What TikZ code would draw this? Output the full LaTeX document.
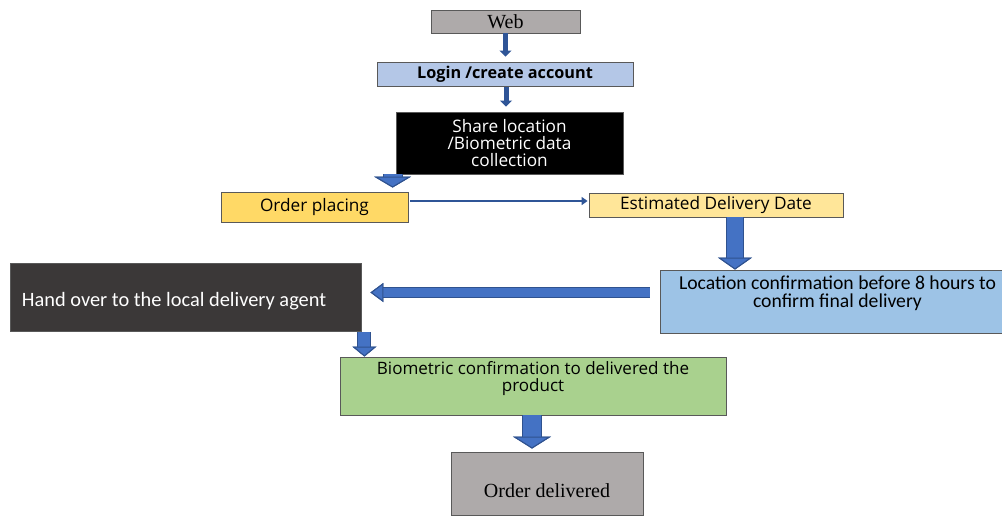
\documentclass[tikz,border=0pt]{standalone}
\usepackage{fontspec}
\setmainfont{Open Sans}
\newfontfamily\calibrifont{Carlito}
\newfontfamily\timesfont{Liberation Serif}
\usetikzlibrary{arrows.meta,positioning,calc}
\definecolor{webgray}{HTML}{AEAAAA}
\definecolor{loginblue}{HTML}{B4C7E7}
\definecolor{ordergold}{HTML}{FFD966}
\definecolor{estyellow}{HTML}{FFE699}
\definecolor{handdark}{HTML}{3B3838}
\definecolor{locblue}{HTML}{9DC3E6}
\definecolor{biogreen}{HTML}{A9D18E}
\definecolor{arrowblue}{HTML}{4472C4}
\definecolor{arrowedge}{HTML}{2F528F}
\definecolor{slimblue}{HTML}{2F5597}
\definecolor{boxedge}{HTML}{595959}
\tikzset{
    %Define style for boxes
    stepbox/.style={
        rectangle,
        draw=boxedge, line width=0.5pt,
        inner sep=0pt,
        align=center,
        font=\fontsize{9.8}{9.7}\selectfont
    },
    %Define style for text set by label
    boxtext/.style={align=center, inner sep=0pt},
    calibritext/.style={font=\calibrifont\fontsize{11.2}{10.4}\selectfont},
    seriftext/.style={font=\timesfont\fontsize{11.4}{12}\selectfont},
    % Define arrow styles
    blk/.style n args={3}{
        draw=arrowblue, line width=#1,
        -{Triangle[width=#2, length=#3, line width=0.6pt, color=arrowedge, fill=arrowblue]},
        preaction={draw=arrowedge, line width=#1+1.2pt}
    },
    slimarrow/.style={
        draw=slimblue, line width=0.1cm,
        -{Triangle[width=0.24cm, length=0.12cm]}
    },
    linearrow/.style={
        draw=slimblue, line width=1.2pt,
        -{Triangle[width=0.16cm, length=0.12cm]}
    }
}
\begin{document}
\begin{tikzpicture}[x=0.02cm, y=-0.02cm]
    \useasboundingbox (0,0) rectangle (1002,515);
    %nodes
    \node[stepbox, seriftext, fill=webgray, minimum width=2.98cm, minimum height=0.46cm] (web) at (505.5,21.5) {Web};
    \node[stepbox, fill=loginblue, minimum width=5.12cm, minimum height=0.48cm, font=\fontsize{9.25}{9.7}\selectfont\bfseries] (login) at (505,74) {Login /create account};
    \node[stepbox, fill=black, text=white, minimum width=4.54cm, minimum height=1.24cm] (share) at (509.5,143) {Share location\\/Biometric data\\collection};
    \node[stepbox, fill=ordergold, minimum width=3.74cm, minimum height=0.6cm] (order) at (314.5,207) {\raisebox{1pt}{Order placing}};
    \node[stepbox, fill=estyellow, minimum width=5.08cm, minimum height=0.48cm] (est) at (716,205) {Estimated Delivery Date};
    \node[stepbox, fill=handdark, minimum width=7.02cm, minimum height=1.36cm,
        label={[boxtext, calibritext, font=\calibrifont\fontsize{11.6}{10.4}\selectfont, text=white, anchor=west, xshift=0.24cm, yshift=-0.08cm]west:Hand over to the local delivery agent}] (hand) at (185.5,297) {};
    \node[stepbox, fill=locblue, minimum width=6.84cm, minimum height=1.26cm,
        label={[boxtext, calibritext, xshift=0.13cm, yshift=0.17cm]center:Location confirmation before 8 hours to\\confirm final delivery}] (loc) at (831,301.5) {};
    \node[stepbox, fill=biogreen, minimum width=7.72cm, minimum height=1.16cm,
        label={[boxtext, font=\fontsize{9.7}{9.7}\selectfont, yshift=0.15cm]center:Biometric confirmation to delivered the\\product}] (bio) at (533,386) {};
    \node[stepbox, fill=webgray, minimum width=3.84cm, minimum height=1.26cm,
        label={[boxtext, seriftext, yshift=-0.15cm]center:Order delivered}] (del) at (547,483.5) {};
    %connectors
    \draw[slimarrow] (web.south) -- ($(web.south |- login.north)+(0,-5)$);
    \draw[slimarrow] ($(login.south)+(1,1)$) -- ($(login.south |- share.north)+(1,-5)$);
    \draw[blk={0.36cm}{0.74cm}{0.22cm}] ($(share.south west)+(-3,0)$) -- ($(share.south west |- order.north)+(-3,-4)$);
    \draw[linearrow] ($(order.east)+(2,-6)$) -- ($(order.east -| est.west)+(-1,-6)$);
    \draw[blk={0.32cm}{0.68cm}{0.24cm}] ($(est.south)+(19,0)$) -- ($(est.south |- loc.north)+(19,0)$);
    \draw[blk={0.18cm}{0.38cm}{0.26cm}] ($(loc.west)+(-10,-9)$) -- ($(loc.west -| hand.east)+(9,-9)$);
    \draw[blk={0.24cm}{0.48cm}{0.2cm}] ($(hand.south east)+(3,1)$) -- ($(hand.south east |- bio.north)+(3,0)$);
    \draw[blk={0.36cm}{0.76cm}{0.24cm}] ($(bio.south)+(-1,0)$) -- ($(bio.south |- del.north)+(-1,-3)$);
\end{tikzpicture}
\end{document}
